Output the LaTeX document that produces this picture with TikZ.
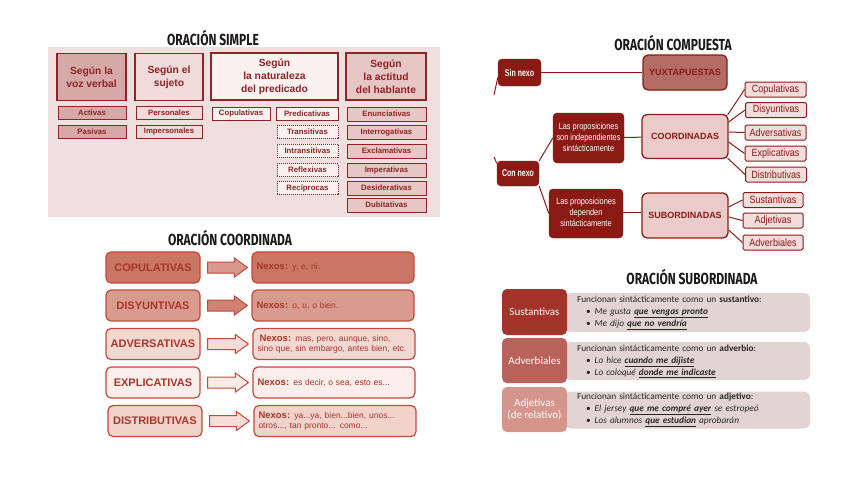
\documentclass[tikz,border=0pt]{standalone}
\usepackage{fontspec}
\setmainfont{Liberation Sans}
\newfontfamily\calibri{Carlito}
\newfontfamily\titulo{Fira Sans}
\usetikzlibrary{calc}

\definecolor{fondosimple}{HTML}{EFDFDE}
\definecolor{rojosimple}{HTML}{8E2424}
\definecolor{vozfill}{HTML}{D5A9A7}
\definecolor{sujetofill}{HTML}{F0DADA}
\definecolor{naturfill}{HTML}{FBF1F1}
\definecolor{actitudfill}{HTML}{E6C7C5}
\definecolor{bordecoord}{HTML}{C24A3C}
\definecolor{textocoord}{HTML}{A8362C}
\definecolor{coorduno}{HTML}{C97664}
\definecolor{coorddos}{HTML}{D99B8F}
\definecolor{coordtres}{HTML}{F3D8D2}
\definecolor{coordcuatro}{HTML}{FCEEEB}
\definecolor{coordcinco}{HTML}{F2D3CC}
\definecolor{flechauno}{HTML}{D99A8D}
\definecolor{flechados}{HTML}{D08372}
\definecolor{flechatres}{HTML}{F6DDD7}
\definecolor{flechacuatro}{HTML}{FBEAE6}
\definecolor{rojocomp}{HTML}{8A1B14}
\definecolor{yuxtafill}{HTML}{B46C66}
\definecolor{grupofill}{HTML}{EBCBC9}
\definecolor{subtfill}{HTML}{F3DCDC}
\definecolor{subuno}{HTML}{A3342A}
\definecolor{subdos}{HTML}{B9625A}
\definecolor{subtres}{HTML}{D5958C}
\definecolor{ejfill}{HTML}{E3D4D4}
\definecolor{textosub}{HTML}{262626}

\newcommand{\estrecho}[2][0.8]{\scalebox{#1}[1]{#2}}

\tikzset{
  tituloest/.style={font=\titulo\bfseries\fontsize{16}{16}\selectfont, text=black!90, inner sep=0pt},
  % oracion simple
  cabecera/.style={draw=rojosimple, line width=1.3pt, text=rojosimple,
    font=\bfseries\fontsize{10.3}{12.8}\selectfont, align=center, inner sep=0pt, minimum height=47pt},
  clase/.style={draw=rojosimple, line width=1pt, text=rojosimple,
    font=\bfseries\fontsize{7.8}{8.5}\selectfont, inner sep=0pt, minimum height=13pt},
  punteada/.style={clase, densely dotted, fill=naturfill},
  % oracion coordinada
  tipocoord/.style={draw=bordecoord, line width=1.2pt, rounded corners=5pt, text=textocoord,
    font=\bfseries\fontsize{11}{13}\selectfont, minimum width=94pt, minimum height=31pt, inner sep=0pt},
  nexos/.style={draw=bordecoord, line width=1.2pt, rounded corners=5pt, text=textocoord,
    font=\fontsize{8.5}{10}\selectfont, align=left, text width=153pt, inner xsep=4.5pt,
    inner ysep=0pt, minimum height=31pt},
  flechabloque/.style={draw=bordecoord, line width=1pt},
  % oracion compuesta
  oscuro/.style={fill=rojocomp, draw=rojocomp, rounded corners=4pt, text=white, align=center, inner sep=0pt},
  grupo/.style={draw=rojocomp, line width=1.3pt, rounded corners=5pt, fill=grupofill, text=rojocomp,
    font=\bfseries\fontsize{9}{10}\selectfont, minimum width=86pt, minimum height=44pt, inner sep=0pt},
  subtipo/.style={draw=rojocomp, line width=1pt, rounded corners=1.5pt, fill=subtfill, text=rojocomp,
    font=\fontsize{10.5}{12}\selectfont, minimum width=61pt, minimum height=15pt, inner sep=0pt},
  rama/.style={draw=rojocomp, line width=1pt},
  % oracion subordinada
  clasesub/.style={rounded corners=5pt, text=white, font=\calibri\fontsize{11}{12.5}\selectfont,
    align=center, minimum width=65pt, minimum height=45pt, inner sep=0pt},
  ejemplo/.style={fill=ejfill, rounded corners=6pt, font=\calibri\fontsize{9.3}{12}\selectfont,
    text=textosub, align=left, text width=221pt, inner xsep=12pt, inner ysep=0pt}
}

\newcommand{\vineta}{\hspace*{9pt}\textbullet\hspace{4pt}}

\begin{document}
\begin{tikzpicture}[x=1pt,y=-1pt]
\useasboundingbox (0,0) rectangle (848,477);

%%% ORACION SIMPLE
\fill[fondosimple] (48,47) rectangle (440,217);
\node[tituloest] (tsimple) at (213,38) {\estrecho[0.75]{ORACIÓN SIMPLE}};

\node[cabecera, fill=vozfill, minimum width=69pt] (voz) at (91.5,77) {Según la\\voz verbal};
\node[cabecera, fill=sujetofill, minimum width=68pt] (sujeto) at (169,77) {Según el\\sujeto};
\node[cabecera, fill=naturfill, minimum width=127pt] (natur) at (274.5,76.5) {Según\\la naturaleza\\del predicado};
\node[cabecera, fill=actitudfill, minimum width=80pt] (actitud) at (386,76.5) {Según\\la actitud\\del hablante};

\node[clase, fill=vozfill, minimum width=68pt] (activas) at (92,112.5) {Activas};
\node[clase, fill=vozfill, minimum width=68pt] (pasivas) at (92,131.5) {Pasivas};
\node[clase, fill=sujetofill, minimum width=66pt] (personales) at (169,112.5) {Personales};
\node[clase, fill=sujetofill, minimum width=66pt] (impersonales) at (169,131.5) {Impersonales};
\node[clase, fill=naturfill, minimum width=58pt] (copul) at (241,113.5) {Copulativas};
\node[clase, fill=naturfill, minimum width=62pt] (predic) at (307,113.5) {Predicativas};

\node[punteada, minimum width=61pt] (transit) at (307.5,132) {Transitivas};
\node[punteada, minimum width=61pt] (intransit) at (307.5,150.5) {Intransitivas};
\node[punteada, minimum width=61pt] (reflex) at (307.5,170) {Reflexivas};
\node[punteada, minimum width=61pt] (recipr) at (307.5,188) {Recíprocas};

\node[clase, fill=actitudfill, minimum width=79pt, minimum height=14pt] (enunc) at (386.5,114) {Enunciativas};
\node[clase, fill=actitudfill, minimum width=79pt, minimum height=14pt] (interr) at (386.5,132.5) {Interrogativas};
\node[clase, fill=actitudfill, minimum width=79pt, minimum height=14pt] (exclam) at (386.5,151) {Exclamativas};
\node[clase, fill=actitudfill, minimum width=79pt, minimum height=14pt] (imper) at (386.5,170) {Imperativas};
\node[clase, fill=actitudfill, minimum width=79pt, minimum height=14pt] (desid) at (386.5,188) {Desiderativas};
\node[clase, fill=actitudfill, minimum width=79pt, minimum height=14pt] (dubit) at (386.5,205) {Dubitativas};

%%% ORACION COORDINADA
\node[tituloest] (tcoord) at (230,238) {\estrecho[0.75]{ORACIÓN COORDINADA}};

\node[tipocoord, fill=coorduno] (cop) at (153,267.5) {COPULATIVAS};
\node[tipocoord, fill=coorddos] (dis) at (153,305.5) {DISYUNTIVAS};
\node[tipocoord, fill=coordtres] (adv) at (153,344) {ADVERSATIVAS};
\node[tipocoord, fill=coordcuatro] (exp) at (153,382.5) {EXPLICATIVAS};
\node[tipocoord, fill=coordcinco] (dist) at (155,421) {DISTRIBUTIVAS};

\node[nexos, fill=coorduno] (ncop) at (333,267.5) {{\bfseries\fontsize{9.5}{10}\selectfont Nexos:} y, e, ni.};
\node[nexos, fill=coorddos] (ndis) at (333,305.5) {{\bfseries\fontsize{9.5}{10}\selectfont Nexos:} o, u, o bien.};
\node[nexos, fill=coordtres] (nadv) at (334,344) {\hspace*{2pt}{\bfseries\fontsize{9.5}{10}\selectfont Nexos:} mas, pero, aunque, sino,\\sino que, sin embargo, antes bien, etc.};
\node[nexos, fill=coordcuatro] (nexp) at (334,382.5) {{\bfseries\fontsize{9.5}{10}\selectfont Nexos:} es decir, o sea, esto es...};
\node[nexos, fill=coordcinco] (ndist) at (335,421) {{\bfseries\fontsize{9.5}{10}\selectfont Nexos:} ya...ya, bien...bien, unos...\\otros..., tan pronto... como...};

\foreach \a/\b/\c in {cop/ncop/flechauno, dis/ndis/flechados, adv/nadv/flechatres, exp/nexp/flechacuatro, dist/ndist/flechatres}
  \draw[flechabloque, fill=\c]
    ([xshift=7pt,yshift=5.5pt]\a.east) -- ([xshift=-17pt,yshift=5.5pt]\b.west)
    -- ([xshift=-17pt,yshift=9.5pt]\b.west) -- ([xshift=-4pt]\b.west)
    -- ([xshift=-17pt,yshift=-9.5pt]\b.west) -- ([xshift=-17pt,yshift=-5.5pt]\b.west)
    -- ([xshift=7pt,yshift=-5.5pt]\a.east) -- cycle;

%%% ORACION COMPUESTA
\node[tituloest] (tcomp) at (673,43) {\estrecho[0.75]{ORACIÓN COMPUESTA}};

\node[oscuro, minimum width=43pt, minimum height=27pt, font=\bfseries\fontsize{10}{12}\selectfont] (sinnexo) at (519.5,72.5) {\estrecho[0.7]{Sin nexo}};
\node[oscuro, minimum width=42pt, minimum height=25pt, font=\bfseries\fontsize{10}{12}\selectfont] (connexo) at (518,173.5) {\estrecho[0.7]{Con nexo}};
\node[oscuro, minimum width=71pt, minimum height=50pt, font=\fontsize{9}{11}\selectfont] (indep) at (588.5,138)
  {\estrecho[0.82]{\begin{tabular}{@{}c@{}}Las proposiciones\\son independientes\\sintácticamente\end{tabular}}};
\node[oscuro, minimum width=74pt, minimum height=49pt, font=\fontsize{9}{11}\selectfont] (dep) at (586,213.5)
  {\estrecho[0.82]{\begin{tabular}{@{}c@{}}Las proposiciones\\dependen\\sintácticamente\end{tabular}}};

\node[grupo, fill=yuxtafill, minimum width=84pt, minimum height=35pt] (yuxta) at (685,72.5) {YUXTAPUESTAS};
\node[grupo] (coordin) at (685,136.5) {COORDINADAS};
\node[grupo, minimum height=45pt] (subordin) at (685,215.5) {SUBORDINADAS};

\node[subtipo] (scopul) at (775.5,89.5) {\estrecho[0.86]{Copulativas}};
\node[subtipo] (sdisy) at (776,110) {\estrecho[0.86]{Disyuntivas}};
\node[subtipo] (sadver) at (775.5,132.5) {\estrecho[0.86]{Adversativas}};
\node[subtipo] (sexpli) at (775.5,153.5) {\estrecho[0.86]{Explicativas}};
\node[subtipo] (sdistr) at (776,174.5) {\estrecho[0.86]{Distributivas}};
\node[subtipo, minimum width=60pt] (ssust) at (773,200) {\estrecho[0.86]{Sustantivas}};
\node[subtipo, minimum width=60pt] (sadje) at (773,220.5) {\estrecho[0.86]{Adjetivas}};
\node[subtipo, minimum width=60pt] (sadvb) at (773,242.5) {\estrecho[0.86]{Adverbiales}};

\coordinate (raizsin) at (494,95);
\coordinate (raizcon) at (494,157);
\draw[rama] ([yshift=-5pt]sinnexo.west) -- (raizsin);
\draw[rama] ([yshift=10pt]connexo.west) -- (raizcon);
\draw[rama] (sinnexo) -- (yuxta);
\draw[rama] (connexo.north east) -- (indep.west);
\draw[rama] (connexo.south east) -- (dep.west);
\draw[rama] (indep) -- (coordin);
\draw[rama] ([yshift=1.5pt]dep.east) -- ([yshift=1.5pt]dep.east -| subordin.west);
\draw[rama] ([xshift=-1pt,yshift=-1pt]coordin.north east) -- (scopul.west);
\draw[rama] ([yshift=14.5pt]coordin.east) -- (sdisy.west);
\draw[rama] ([yshift=4.5pt]coordin.east) -- (sadver.west);
\draw[rama] ([yshift=-5.5pt]coordin.east) -- (sexpli.west);
\draw[rama] ([xshift=-1pt,yshift=1pt]coordin.south east) -- (sdistr.west);
\draw[rama] ([yshift=8.5pt]subordin.east) -- (ssust.west);
\draw[rama] ([yshift=-1.5pt]subordin.east) -- (sadje.west);
\draw[rama] ([yshift=-14.5pt]subordin.east) -- (sadvb.west);

%%% ORACION SUBORDINADA
\node[tituloest] (tsub) at (692,277) {\estrecho[0.75]{ORACIÓN SUBORDINADA}};

\node[ejemplo, minimum height=39pt] (ejsust) at (687.5,312.5)
  {Funcionan sintácticamente como un \textbf{sustantivo}:\\
   \vineta\textit{Me gusta \underline{\textbf{que vengas pronto}}}\\
   \vineta\textit{Me dijo \underline{\textbf{que no vendría}}}};
\node[ejemplo, minimum height=38pt] (ejadvb) at (687.5,361)
  {Funcionan sintácticamente como un \textbf{adverbio}:\\
   \vineta\textit{Lo hice \underline{\textbf{cuando me dijiste}}}\\
   \vineta\textit{Lo coloqué \underline{\textbf{donde me indicaste}}}};
\node[ejemplo, minimum height=37pt] (ejadje) at (687.5,410)
  {Funcionan sintácticamente como un \textbf{adjetivo}:\\
   \vineta\textit{El jersey \underline{\textbf{que me compré ayer}} se estropeó}\\
   \vineta\textit{Los alumnos \underline{\textbf{que estudian}} aprobarán}};

\node[clasesub, fill=subuno, minimum height=46pt] (csust) at (534.5,312) {Sustantivas};
\node[clasesub, fill=subdos] (cadvb) at (534.5,360.5) {Adverbiales};
\node[clasesub, fill=subtres] (cadje) at (534.5,409.5) {Adjetivas\\(de relativo)};

\end{tikzpicture}
\end{document}
